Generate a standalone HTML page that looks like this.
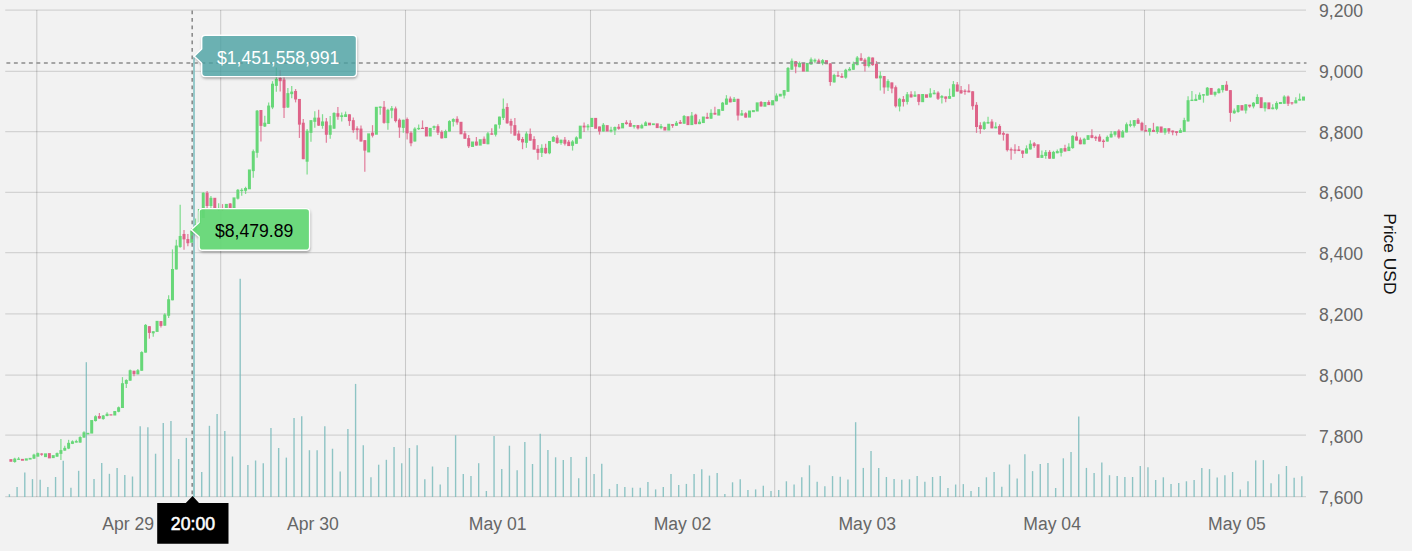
<!DOCTYPE html>
<html lang="en"><head><meta charset="utf-8"><title>Price chart</title>
<style>html,body{margin:0;padding:0;background:#f2f2f2;overflow:hidden}svg{display:block}text{font-family:"Liberation Sans",sans-serif;font-size:17.6px}.ax{fill:#666}.hg{stroke:#000;stroke-opacity:.125;stroke-width:1.25}.vg{stroke:#000;stroke-opacity:.17;stroke-width:1.05}.g{fill:#67d778}.r{fill:#de6489}.gw{stroke:#67d778;stroke-width:1.25;opacity:.8}.rw{stroke:#de6489;stroke-width:1.25;opacity:.8}.v{stroke:#7dbcbd;stroke-width:1.4;opacity:.85}.ch{stroke:#8c8c8c;stroke-width:1.6;stroke-dasharray:3.9 3.6;fill:none}</style></head><body>
<svg width="1412" height="551" viewBox="0 0 1412 551">
<defs><filter id="sh" x="-10%" y="-20%" width="120%" height="150%"><feGaussianBlur stdDeviation="1.5"/></filter></defs>
<rect width="1412" height="551" fill="#f2f2f2"/>
<g class="vg"><line x1="36.8" y1="10" x2="36.8" y2="497"/><line x1="220.7" y1="10" x2="220.7" y2="497"/><line x1="405.5" y1="10" x2="405.5" y2="497"/><line x1="590.5" y1="10" x2="590.5" y2="497"/><line x1="774.7" y1="10" x2="774.7" y2="497"/><line x1="959.7" y1="10" x2="959.7" y2="497"/><line x1="1144.5" y1="10" x2="1144.5" y2="497"/></g>
<g class="hg"><line x1="5.2" y1="10" x2="1306" y2="10"/><line x1="5.2" y1="71.3" x2="1306" y2="71.3"/><line x1="5.2" y1="131.5" x2="1306" y2="131.5"/><line x1="5.2" y1="192.3" x2="1306" y2="192.3"/><line x1="5.2" y1="252.5" x2="1306" y2="252.5"/><line x1="5.2" y1="313.9" x2="1306" y2="313.9"/><line x1="5.2" y1="375" x2="1306" y2="375"/><line x1="5.2" y1="435" x2="1306" y2="435"/><line x1="5.2" y1="496.5" x2="1306" y2="496.5"/></g>
<g class="v"><line x1="9.4" y1="494.2" x2="9.4" y2="497"/><line x1="17.09" y1="487.1" x2="17.09" y2="497"/><line x1="24.79" y1="472.5" x2="24.79" y2="497"/><line x1="32.48" y1="479.1" x2="32.48" y2="497"/><line x1="40.17" y1="479.7" x2="40.17" y2="497"/><line x1="47.86" y1="487.1" x2="47.86" y2="497"/><line x1="55.56" y1="477" x2="55.56" y2="497"/><line x1="63.25" y1="460.8" x2="63.25" y2="497"/><line x1="70.94" y1="487.7" x2="70.94" y2="497"/><line x1="78.64" y1="470.8" x2="78.64" y2="497"/><line x1="86.33" y1="362.2" x2="86.33" y2="497"/><line x1="94.02" y1="479.1" x2="94.02" y2="497"/><line x1="101.72" y1="463.1" x2="101.72" y2="497"/><line x1="109.41" y1="473.8" x2="109.41" y2="497"/><line x1="117.1" y1="467.9" x2="117.1" y2="497"/><line x1="124.8" y1="475" x2="124.8" y2="497"/><line x1="132.49" y1="476.5" x2="132.49" y2="497"/><line x1="140.18" y1="426.3" x2="140.18" y2="497"/><line x1="147.87" y1="427.2" x2="147.87" y2="497"/><line x1="155.57" y1="453.7" x2="155.57" y2="497"/><line x1="163.26" y1="423.1" x2="163.26" y2="497"/><line x1="170.95" y1="421" x2="170.95" y2="497"/><line x1="178.65" y1="459" x2="178.65" y2="497"/><line x1="186.34" y1="437.9" x2="186.34" y2="497"/><line x1="201.72" y1="472" x2="201.72" y2="497"/><line x1="209.42" y1="425.8" x2="209.42" y2="497"/><line x1="217.11" y1="413.9" x2="217.11" y2="497"/><line x1="224.8" y1="431.1" x2="224.8" y2="497"/><line x1="232.5" y1="456.5" x2="232.5" y2="497"/><line x1="240.19" y1="278.7" x2="240.19" y2="497"/><line x1="247.88" y1="465" x2="247.88" y2="497"/><line x1="255.58" y1="460.5" x2="255.58" y2="497"/><line x1="263.27" y1="463.2" x2="263.27" y2="497"/><line x1="270.96" y1="428.1" x2="270.96" y2="497"/><line x1="278.65" y1="448" x2="278.65" y2="497"/><line x1="286.35" y1="457.6" x2="286.35" y2="497"/><line x1="294.04" y1="418.1" x2="294.04" y2="497"/><line x1="301.73" y1="416.3" x2="301.73" y2="497"/><line x1="309.43" y1="450.2" x2="309.43" y2="497"/><line x1="317.12" y1="450.2" x2="317.12" y2="497"/><line x1="324.81" y1="426.3" x2="324.81" y2="497"/><line x1="332.51" y1="448.7" x2="332.51" y2="497"/><line x1="340.2" y1="471.4" x2="340.2" y2="497"/><line x1="347.89" y1="429" x2="347.89" y2="497"/><line x1="355.58" y1="383.9" x2="355.58" y2="497"/><line x1="363.28" y1="445.3" x2="363.28" y2="497"/><line x1="370.97" y1="477.2" x2="370.97" y2="497"/><line x1="378.66" y1="464.7" x2="378.66" y2="497"/><line x1="386.36" y1="459.8" x2="386.36" y2="497"/><line x1="394.05" y1="446.9" x2="394.05" y2="497"/><line x1="401.74" y1="463.2" x2="401.74" y2="497"/><line x1="409.44" y1="448" x2="409.44" y2="497"/><line x1="417.13" y1="445.3" x2="417.13" y2="497"/><line x1="424.82" y1="479.2" x2="424.82" y2="497"/><line x1="432.51" y1="466.5" x2="432.51" y2="497"/><line x1="440.21" y1="484.4" x2="440.21" y2="497"/><line x1="447.9" y1="467" x2="447.9" y2="497"/><line x1="455.59" y1="435.3" x2="455.59" y2="497"/><line x1="463.29" y1="473.9" x2="463.29" y2="497"/><line x1="470.98" y1="475.9" x2="470.98" y2="497"/><line x1="478.67" y1="463.2" x2="478.67" y2="497"/><line x1="486.37" y1="491" x2="486.37" y2="497"/><line x1="494.06" y1="435.9" x2="494.06" y2="497"/><line x1="501.75" y1="469" x2="501.75" y2="497"/><line x1="509.44" y1="445.7" x2="509.44" y2="497"/><line x1="517.14" y1="470.2" x2="517.14" y2="497"/><line x1="524.83" y1="442" x2="524.83" y2="497"/><line x1="532.52" y1="464" x2="532.52" y2="497"/><line x1="540.22" y1="433.8" x2="540.22" y2="497"/><line x1="547.91" y1="450.1" x2="547.91" y2="497"/><line x1="555.6" y1="457.3" x2="555.6" y2="497"/><line x1="563.3" y1="460.1" x2="563.3" y2="497"/><line x1="570.99" y1="456.9" x2="570.99" y2="497"/><line x1="578.68" y1="478.2" x2="578.68" y2="497"/><line x1="586.38" y1="456.9" x2="586.38" y2="497"/><line x1="594.07" y1="474.1" x2="594.07" y2="497"/><line x1="601.76" y1="463.7" x2="601.76" y2="497"/><line x1="609.45" y1="488.9" x2="609.45" y2="497"/><line x1="617.15" y1="483.9" x2="617.15" y2="497"/><line x1="624.84" y1="487.1" x2="624.84" y2="497"/><line x1="632.53" y1="487.7" x2="632.53" y2="497"/><line x1="640.23" y1="487.7" x2="640.23" y2="497"/><line x1="647.92" y1="482.1" x2="647.92" y2="497"/><line x1="655.61" y1="489.4" x2="655.61" y2="497"/><line x1="663.3" y1="487.1" x2="663.3" y2="497"/><line x1="671" y1="474.1" x2="671" y2="497"/><line x1="678.69" y1="485" x2="678.69" y2="497"/><line x1="686.38" y1="483.9" x2="686.38" y2="497"/><line x1="694.08" y1="474.1" x2="694.08" y2="497"/><line x1="701.77" y1="469.3" x2="701.77" y2="497"/><line x1="709.46" y1="475.6" x2="709.46" y2="497"/><line x1="717.16" y1="472.9" x2="717.16" y2="497"/><line x1="724.85" y1="493.9" x2="724.85" y2="497"/><line x1="732.54" y1="482.3" x2="732.54" y2="497"/><line x1="740.23" y1="479.3" x2="740.23" y2="497"/><line x1="747.93" y1="490.1" x2="747.93" y2="497"/><line x1="755.62" y1="489.4" x2="755.62" y2="497"/><line x1="763.31" y1="485.7" x2="763.31" y2="497"/><line x1="771.01" y1="491" x2="771.01" y2="497"/><line x1="778.7" y1="490" x2="778.7" y2="497"/><line x1="786.39" y1="481.3" x2="786.39" y2="497"/><line x1="794.09" y1="484.6" x2="794.09" y2="497"/><line x1="801.78" y1="477.3" x2="801.78" y2="497"/><line x1="809.47" y1="465.3" x2="809.47" y2="497"/><line x1="817.16" y1="481.8" x2="817.16" y2="497"/><line x1="824.86" y1="486.2" x2="824.86" y2="497"/><line x1="832.55" y1="476.1" x2="832.55" y2="497"/><line x1="840.24" y1="476.8" x2="840.24" y2="497"/><line x1="847.94" y1="479.5" x2="847.94" y2="497"/><line x1="855.63" y1="422.2" x2="855.63" y2="497"/><line x1="863.32" y1="467.9" x2="863.32" y2="497"/><line x1="871.02" y1="451" x2="871.02" y2="497"/><line x1="878.71" y1="467.9" x2="878.71" y2="497"/><line x1="886.4" y1="477" x2="886.4" y2="497"/><line x1="894.09" y1="479.1" x2="894.09" y2="497"/><line x1="901.79" y1="479.7" x2="901.79" y2="497"/><line x1="909.48" y1="479.3" x2="909.48" y2="497"/><line x1="917.17" y1="475.9" x2="917.17" y2="497"/><line x1="924.87" y1="481.8" x2="924.87" y2="497"/><line x1="932.56" y1="477" x2="932.56" y2="497"/><line x1="940.25" y1="475.9" x2="940.25" y2="497"/><line x1="947.95" y1="488" x2="947.95" y2="497"/><line x1="955.64" y1="484.5" x2="955.64" y2="497"/><line x1="963.33" y1="484.1" x2="963.33" y2="497"/><line x1="971.02" y1="491" x2="971.02" y2="497"/><line x1="978.72" y1="487.1" x2="978.72" y2="497"/><line x1="986.41" y1="477.3" x2="986.41" y2="497"/><line x1="994.1" y1="472" x2="994.1" y2="497"/><line x1="1001.8" y1="486.8" x2="1001.8" y2="497"/><line x1="1009.49" y1="464.5" x2="1009.49" y2="497"/><line x1="1017.18" y1="478.6" x2="1017.18" y2="497"/><line x1="1024.88" y1="454.2" x2="1024.88" y2="497"/><line x1="1032.57" y1="471.1" x2="1032.57" y2="497"/><line x1="1040.26" y1="464" x2="1040.26" y2="497"/><line x1="1047.95" y1="463.1" x2="1047.95" y2="497"/><line x1="1055.65" y1="488" x2="1055.65" y2="497"/><line x1="1063.34" y1="458.3" x2="1063.34" y2="497"/><line x1="1071.03" y1="451.9" x2="1071.03" y2="497"/><line x1="1078.73" y1="416.5" x2="1078.73" y2="497"/><line x1="1086.42" y1="467.9" x2="1086.42" y2="497"/><line x1="1094.11" y1="472.9" x2="1094.11" y2="497"/><line x1="1101.81" y1="462.6" x2="1101.81" y2="497"/><line x1="1109.5" y1="475.2" x2="1109.5" y2="497"/><line x1="1117.19" y1="476.1" x2="1117.19" y2="497"/><line x1="1124.88" y1="477" x2="1124.88" y2="497"/><line x1="1132.58" y1="477" x2="1132.58" y2="497"/><line x1="1140.27" y1="466.1" x2="1140.27" y2="497"/><line x1="1147.96" y1="467.2" x2="1147.96" y2="497"/><line x1="1155.66" y1="480" x2="1155.66" y2="497"/><line x1="1163.35" y1="477.3" x2="1163.35" y2="497"/><line x1="1171.04" y1="484.1" x2="1171.04" y2="497"/><line x1="1178.74" y1="482.9" x2="1178.74" y2="497"/><line x1="1186.43" y1="481.3" x2="1186.43" y2="497"/><line x1="1194.12" y1="480.1" x2="1194.12" y2="497"/><line x1="1201.82" y1="468" x2="1201.82" y2="497"/><line x1="1209.51" y1="469.1" x2="1209.51" y2="497"/><line x1="1217.2" y1="477.4" x2="1217.2" y2="497"/><line x1="1224.89" y1="475.2" x2="1224.89" y2="497"/><line x1="1232.59" y1="472" x2="1232.59" y2="497"/><line x1="1240.28" y1="489.4" x2="1240.28" y2="497"/><line x1="1247.97" y1="481.2" x2="1247.97" y2="497"/><line x1="1255.67" y1="460.4" x2="1255.67" y2="497"/><line x1="1263.36" y1="460.1" x2="1263.36" y2="497"/><line x1="1271.05" y1="483.3" x2="1271.05" y2="497"/><line x1="1278.75" y1="474.2" x2="1278.75" y2="497"/><line x1="1286.44" y1="466" x2="1286.44" y2="497"/><line x1="1294.13" y1="477.8" x2="1294.13" y2="497"/><line x1="1301.82" y1="476.2" x2="1301.82" y2="497"/></g>
<g><line class="gw" x1="14.75" y1="457.87" x2="14.75" y2="462.63"/><line class="gw" x1="18.59" y1="457.12" x2="18.59" y2="459.88"/><line class="gw" x1="33.98" y1="453.86" x2="33.98" y2="458.88"/><line class="gw" x1="37.83" y1="452.61" x2="37.83" y2="456.62"/><line class="rw" x1="41.68" y1="453.24" x2="41.68" y2="455.74"/><line class="gw" x1="57.06" y1="452.61" x2="57.06" y2="457"/><line class="gw" x1="60.91" y1="439.08" x2="60.91" y2="459.88"/><line class="gw" x1="64.76" y1="445.85" x2="64.76" y2="450.86"/><line class="gw" x1="68.61" y1="439.83" x2="68.61" y2="449.1"/><line class="gw" x1="72.45" y1="440.34" x2="72.45" y2="444.09"/><line class="gw" x1="76.3" y1="439.83" x2="76.3" y2="442.59"/><line class="gw" x1="80.15" y1="436.33" x2="80.15" y2="442.84"/><line class="gw" x1="83.99" y1="431.32" x2="83.99" y2="437.83"/><line class="gw" x1="95.53" y1="415.28" x2="95.53" y2="421.55"/><line class="rw" x1="99.38" y1="413.03" x2="99.38" y2="418.79"/><line class="gw" x1="103.23" y1="415.03" x2="103.23" y2="419.79"/><line class="gw" x1="107.08" y1="412.28" x2="107.08" y2="416.28"/><line class="gw" x1="118.62" y1="406.51" x2="118.62" y2="412.28"/><line class="gw" x1="122.46" y1="377.12" x2="122.46" y2="408.01"/><line class="gw" x1="126.31" y1="379.15" x2="126.31" y2="388.05"/><line class="gw" x1="130.16" y1="369.49" x2="130.16" y2="380.68"/><line class="rw" x1="134" y1="370.76" x2="134" y2="376.23"/><line class="gw" x1="137.85" y1="368.98" x2="137.85" y2="374.32"/><line class="gw" x1="141.7" y1="351.19" x2="141.7" y2="370.76"/><line class="gw" x1="145.55" y1="324.02" x2="145.55" y2="352.62"/><line class="rw" x1="149.39" y1="326.18" x2="149.39" y2="338.64"/><line class="gw" x1="153.24" y1="331.27" x2="153.24" y2="336.73"/><line class="rw" x1="160.93" y1="321.1" x2="160.93" y2="327.46"/><line class="gw" x1="164.78" y1="313.22" x2="164.78" y2="325.68"/><line class="gw" x1="168.63" y1="295.17" x2="168.63" y2="318.05"/><line class="gw" x1="172.47" y1="249.4" x2="172.47" y2="300.3"/><line class="gw" x1="176.32" y1="239.68" x2="176.32" y2="269.45"/><line class="gw" x1="180.17" y1="204.66" x2="180.17" y2="247.85"/><line class="rw" x1="184.02" y1="230.11" x2="184.02" y2="249.86"/><line class="rw" x1="187.86" y1="233.97" x2="187.86" y2="246.31"/><line class="gw" x1="195.56" y1="218.5" x2="195.56" y2="230.4"/><line class="gw" x1="203.25" y1="192.3" x2="203.25" y2="218"/><line class="rw" x1="207.1" y1="191.1" x2="207.1" y2="209"/><line class="gw" x1="210.94" y1="195.9" x2="210.94" y2="210"/><line class="gw" x1="218.64" y1="203.3" x2="218.64" y2="211"/><line class="rw" x1="222.49" y1="204.1" x2="222.49" y2="211"/><line class="rw" x1="230.18" y1="203" x2="230.18" y2="208.5"/><line class="gw" x1="237.87" y1="188.9" x2="237.87" y2="199.44"/><line class="gw" x1="241.72" y1="188.27" x2="241.72" y2="195.63"/><line class="gw" x1="245.57" y1="186.74" x2="245.57" y2="193.98"/><line class="gw" x1="253.26" y1="149.53" x2="253.26" y2="177.85"/><line class="gw" x1="257.11" y1="110.01" x2="257.11" y2="157.64"/><line class="rw" x1="260.95" y1="110.01" x2="260.95" y2="141.38"/><line class="gw" x1="264.8" y1="115.73" x2="264.8" y2="126.9"/><line class="gw" x1="268.65" y1="102.39" x2="268.65" y2="123.98"/><line class="gw" x1="272.5" y1="81.18" x2="272.5" y2="109.12"/><line class="gw" x1="276.34" y1="67.46" x2="276.34" y2="91.85"/><line class="rw" x1="280.19" y1="70.13" x2="280.19" y2="91.59"/><line class="rw" x1="284.04" y1="77.37" x2="284.04" y2="118.01"/><line class="gw" x1="287.88" y1="88.04" x2="287.88" y2="108.1"/><line class="gw" x1="291.73" y1="85.88" x2="291.73" y2="98.2"/><line class="rw" x1="295.58" y1="89.05" x2="295.58" y2="102.39"/><line class="rw" x1="299.42" y1="98.96" x2="299.42" y2="137.95"/><line class="rw" x1="303.27" y1="118.9" x2="303.27" y2="159.17"/><line class="gw" x1="307.12" y1="129.06" x2="307.12" y2="174.41"/><line class="gw" x1="310.97" y1="120.17" x2="310.97" y2="141.76"/><line class="gw" x1="314.81" y1="111.28" x2="314.81" y2="127.79"/><line class="rw" x1="318.66" y1="109.63" x2="318.66" y2="125.89"/><line class="gw" x1="322.51" y1="114.2" x2="322.51" y2="128.68"/><line class="rw" x1="326.35" y1="118.01" x2="326.35" y2="142.65"/><line class="gw" x1="330.2" y1="115.98" x2="330.2" y2="138.84"/><line class="gw" x1="334.05" y1="112.17" x2="334.05" y2="128.68"/><line class="rw" x1="337.89" y1="107.09" x2="337.89" y2="119.79"/><line class="gw" x1="341.74" y1="112.52" x2="341.74" y2="121.51"/><line class="gw" x1="345.59" y1="111.57" x2="345.59" y2="117.01"/><line class="rw" x1="349.44" y1="114.29" x2="349.44" y2="125.86"/><line class="rw" x1="353.28" y1="117.42" x2="353.28" y2="132.67"/><line class="rw" x1="357.13" y1="126.13" x2="357.13" y2="139.47"/><line class="rw" x1="360.98" y1="125.59" x2="360.98" y2="141.51"/><line class="rw" x1="364.82" y1="140.15" x2="364.82" y2="171.87"/><line class="rw" x1="372.52" y1="125.18" x2="372.52" y2="137.43"/><line class="gw" x1="380.21" y1="106.53" x2="380.21" y2="114.7"/><line class="rw" x1="384.06" y1="101.09" x2="384.06" y2="123.82"/><line class="gw" x1="387.91" y1="108.85" x2="387.91" y2="129.67"/><line class="gw" x1="391.75" y1="106.12" x2="391.75" y2="118.37"/><line class="rw" x1="395.6" y1="106.53" x2="395.6" y2="122.46"/><line class="rw" x1="399.45" y1="118.37" x2="399.45" y2="137.84"/><line class="gw" x1="403.29" y1="119.74" x2="403.29" y2="132.67"/><line class="rw" x1="407.14" y1="117.42" x2="407.14" y2="139.47"/><line class="rw" x1="410.99" y1="131.31" x2="410.99" y2="146.28"/><line class="gw" x1="414.83" y1="127.22" x2="414.83" y2="141.51"/><line class="gw" x1="418.68" y1="124.5" x2="418.68" y2="129.94"/><line class="rw" x1="422.53" y1="120.42" x2="422.53" y2="128.86"/><line class="gw" x1="434.07" y1="125.59" x2="434.07" y2="129.94"/><line class="rw" x1="437.92" y1="124.23" x2="437.92" y2="135.12"/><line class="rw" x1="441.76" y1="130.22" x2="441.76" y2="138.38"/><line class="gw" x1="445.61" y1="129.67" x2="445.61" y2="138.11"/><line class="gw" x1="449.46" y1="120.14" x2="449.46" y2="131.58"/><line class="gw" x1="453.3" y1="118.37" x2="453.3" y2="126.54"/><line class="rw" x1="457.15" y1="116.33" x2="457.15" y2="124.77"/><line class="rw" x1="464.85" y1="131.03" x2="464.85" y2="138.79"/><line class="rw" x1="468.69" y1="135.12" x2="468.69" y2="147.91"/><line class="rw" x1="476.39" y1="137.02" x2="476.39" y2="145.6"/><line class="rw" x1="484.08" y1="136.48" x2="484.08" y2="143.83"/><line class="gw" x1="487.93" y1="131.99" x2="487.93" y2="144.24"/><line class="rw" x1="491.77" y1="128.31" x2="491.77" y2="134.71"/><line class="gw" x1="495.62" y1="124.5" x2="495.62" y2="136.48"/><line class="gw" x1="499.47" y1="116.61" x2="499.47" y2="128.58"/><line class="gw" x1="503.32" y1="98.44" x2="503.32" y2="119.94"/><line class="rw" x1="507.16" y1="103.34" x2="507.16" y2="123.76"/><line class="rw" x1="511.01" y1="118.86" x2="511.01" y2="133.83"/><line class="rw" x1="514.86" y1="117.9" x2="514.86" y2="135.6"/><line class="rw" x1="518.7" y1="130.56" x2="518.7" y2="141.04"/><line class="rw" x1="522.55" y1="136.96" x2="522.55" y2="149.21"/><line class="gw" x1="526.4" y1="131.51" x2="526.4" y2="147.85"/><line class="rw" x1="530.25" y1="128.38" x2="530.25" y2="140.63"/><line class="rw" x1="534.09" y1="136.28" x2="534.09" y2="149.62"/><line class="rw" x1="537.94" y1="145.12" x2="537.94" y2="159.69"/><line class="gw" x1="541.79" y1="144.17" x2="541.79" y2="156.97"/><line class="rw" x1="545.63" y1="143.76" x2="545.63" y2="153.7"/><line class="gw" x1="549.48" y1="141.04" x2="549.48" y2="154.24"/><line class="gw" x1="553.33" y1="136.01" x2="553.33" y2="141.72"/><line class="rw" x1="557.17" y1="135.19" x2="557.17" y2="143.76"/><line class="gw" x1="561.02" y1="139.68" x2="561.02" y2="144.72"/><line class="rw" x1="564.87" y1="136.96" x2="564.87" y2="145.53"/><line class="rw" x1="568.71" y1="140.09" x2="568.71" y2="146.08"/><line class="gw" x1="572.56" y1="140.09" x2="572.56" y2="150.57"/><line class="gw" x1="576.41" y1="136.28" x2="576.41" y2="143.76"/><line class="rw" x1="584.1" y1="122.39" x2="584.1" y2="131.92"/><line class="gw" x1="587.95" y1="124.03" x2="587.95" y2="130.56"/><line class="rw" x1="599.49" y1="126.48" x2="599.49" y2="134.64"/><line class="gw" x1="603.34" y1="122.94" x2="603.34" y2="131.51"/><line class="gw" x1="611.03" y1="126.75" x2="611.03" y2="132.47"/><line class="gw" x1="614.88" y1="126.48" x2="614.88" y2="134.92"/><line class="rw" x1="618.73" y1="124.03" x2="618.73" y2="129.74"/><line class="rw" x1="626.42" y1="120.22" x2="626.42" y2="124.71"/><line class="rw" x1="630.27" y1="120.22" x2="630.27" y2="126.75"/><line class="gw" x1="634.11" y1="125.12" x2="634.11" y2="128.38"/><line class="rw" x1="637.96" y1="125.12" x2="637.96" y2="129.47"/><line class="gw" x1="641.81" y1="123.76" x2="641.81" y2="128.38"/><line class="gw" x1="645.65" y1="121.31" x2="645.65" y2="126.07"/><line class="gw" x1="661.04" y1="124.03" x2="661.04" y2="129.2"/><line class="rw" x1="672.58" y1="124.14" x2="672.58" y2="127.82"/><line class="gw" x1="676.43" y1="121.01" x2="676.43" y2="125.78"/><line class="rw" x1="680.28" y1="120.06" x2="680.28" y2="123.74"/><line class="gw" x1="684.12" y1="114.89" x2="684.12" y2="123.74"/><line class="gw" x1="691.82" y1="111.89" x2="691.82" y2="125.1"/><line class="rw" x1="695.67" y1="113.8" x2="695.67" y2="124.14"/><line class="gw" x1="699.51" y1="119.24" x2="699.51" y2="124.14"/><line class="rw" x1="707.21" y1="112.85" x2="707.21" y2="118.7"/><line class="gw" x1="711.05" y1="109.17" x2="711.05" y2="118.7"/><line class="rw" x1="714.9" y1="106.72" x2="714.9" y2="114.62"/><line class="gw" x1="722.6" y1="101.96" x2="722.6" y2="110.81"/><line class="gw" x1="726.44" y1="95.15" x2="726.44" y2="104.68"/><line class="rw" x1="730.29" y1="96.51" x2="730.29" y2="102.37"/><line class="gw" x1="734.14" y1="96.92" x2="734.14" y2="101.96"/><line class="rw" x1="737.98" y1="98.83" x2="737.98" y2="120.61"/><line class="gw" x1="741.83" y1="110.12" x2="741.83" y2="115.57"/><line class="rw" x1="745.68" y1="112.17" x2="745.68" y2="117.61"/><line class="rw" x1="761.06" y1="101.01" x2="761.06" y2="106.45"/><line class="rw" x1="768.76" y1="100.19" x2="768.76" y2="105.09"/><line class="gw" x1="776.45" y1="93.38" x2="776.45" y2="101.28"/><line class="gw" x1="784.15" y1="90.12" x2="784.15" y2="98.56"/><line class="gw" x1="787.99" y1="66.98" x2="787.99" y2="91.75"/><line class="gw" x1="791.84" y1="58.4" x2="791.84" y2="69.7"/><line class="rw" x1="795.69" y1="61.12" x2="795.69" y2="73.37"/><line class="gw" x1="799.53" y1="61.53" x2="799.53" y2="67.25"/><line class="gw" x1="811.08" y1="57.45" x2="811.08" y2="64.53"/><line class="gw" x1="814.92" y1="58.4" x2="814.92" y2="63.17"/><line class="rw" x1="818.77" y1="58.81" x2="818.77" y2="63.44"/><line class="gw" x1="822.62" y1="59.08" x2="822.62" y2="65.21"/><line class="rw" x1="830.31" y1="63.37" x2="830.31" y2="85.83"/><line class="gw" x1="834.16" y1="73.86" x2="834.16" y2="82.43"/><line class="rw" x1="838" y1="71.13" x2="838" y2="76.58"/><line class="rw" x1="841.85" y1="73.31" x2="841.85" y2="77.67"/><line class="gw" x1="845.7" y1="68.82" x2="845.7" y2="78.76"/><line class="gw" x1="849.55" y1="67.05" x2="849.55" y2="70.59"/><line class="gw" x1="853.39" y1="61.61" x2="853.39" y2="69.77"/><line class="gw" x1="857.24" y1="55.89" x2="857.24" y2="65.14"/><line class="rw" x1="861.09" y1="53.17" x2="861.09" y2="60.65"/><line class="rw" x1="864.93" y1="58.34" x2="864.93" y2="71.54"/><line class="gw" x1="868.78" y1="56.57" x2="868.78" y2="67.46"/><line class="rw" x1="872.63" y1="57.52" x2="872.63" y2="65.69"/><line class="rw" x1="876.48" y1="61.06" x2="876.48" y2="78.35"/><line class="gw" x1="880.32" y1="71.54" x2="880.32" y2="90.6"/><line class="rw" x1="884.17" y1="76.03" x2="884.17" y2="93.73"/><line class="gw" x1="888.02" y1="79.3" x2="888.02" y2="91.01"/><line class="rw" x1="891.86" y1="82.43" x2="891.86" y2="93.32"/><line class="rw" x1="895.71" y1="85.56" x2="895.71" y2="107.61"/><line class="gw" x1="899.56" y1="97.81" x2="899.56" y2="111.42"/><line class="rw" x1="903.4" y1="96.04" x2="903.4" y2="106.52"/><line class="gw" x1="907.25" y1="91.96" x2="907.25" y2="104.62"/><line class="rw" x1="911.1" y1="91.28" x2="911.1" y2="97.4"/><line class="gw" x1="914.94" y1="91.28" x2="914.94" y2="96.72"/><line class="rw" x1="918.79" y1="94.27" x2="918.79" y2="105.16"/><line class="gw" x1="930.33" y1="88.28" x2="930.33" y2="97.4"/><line class="gw" x1="934.18" y1="89.92" x2="934.18" y2="94.27"/><line class="rw" x1="938.03" y1="91.28" x2="938.03" y2="100.12"/><line class="gw" x1="941.87" y1="95.09" x2="941.87" y2="103.53"/><line class="rw" x1="945.72" y1="96.45" x2="945.72" y2="102.17"/><line class="gw" x1="949.57" y1="88.56" x2="949.57" y2="98.76"/><line class="gw" x1="953.41" y1="81.07" x2="953.41" y2="96.72"/><line class="rw" x1="957.26" y1="82.02" x2="957.26" y2="91.55"/><line class="rw" x1="961.11" y1="86.11" x2="961.11" y2="93.73"/><line class="rw" x1="964.96" y1="89.24" x2="964.96" y2="94.68"/><line class="rw" x1="968.8" y1="84.2" x2="968.8" y2="92.37"/><line class="rw" x1="972.65" y1="91.28" x2="972.65" y2="109.65"/><line class="rw" x1="976.5" y1="102.08" x2="976.5" y2="132.84"/><line class="rw" x1="980.34" y1="122.22" x2="980.34" y2="133.79"/><line class="gw" x1="984.19" y1="121.13" x2="984.19" y2="130.12"/><line class="gw" x1="988.04" y1="116.78" x2="988.04" y2="123.58"/><line class="rw" x1="991.88" y1="119.23" x2="991.88" y2="128.35"/><line class="gw" x1="995.73" y1="122.22" x2="995.73" y2="128.35"/><line class="rw" x1="999.58" y1="124.26" x2="999.58" y2="134.47"/><line class="rw" x1="1003.43" y1="131.48" x2="1003.43" y2="140.6"/><line class="rw" x1="1007.27" y1="133.79" x2="1007.27" y2="151.49"/><line class="rw" x1="1011.12" y1="147.4" x2="1011.12" y2="159.65"/><line class="rw" x1="1014.97" y1="144.27" x2="1014.97" y2="153.8"/><line class="rw" x1="1018.81" y1="146.04" x2="1018.81" y2="151.08"/><line class="rw" x1="1022.66" y1="150.53" x2="1022.66" y2="157.88"/><line class="gw" x1="1026.51" y1="145.36" x2="1026.51" y2="153.53"/><line class="gw" x1="1030.36" y1="140.19" x2="1030.36" y2="149.44"/><line class="rw" x1="1034.2" y1="141.96" x2="1034.2" y2="147.81"/><line class="gw" x1="1041.9" y1="150.53" x2="1041.9" y2="157.88"/><line class="gw" x1="1045.74" y1="150.12" x2="1045.74" y2="158.7"/><line class="rw" x1="1049.59" y1="150.12" x2="1049.59" y2="158.7"/><line class="gw" x1="1053.44" y1="150.81" x2="1053.44" y2="158.7"/><line class="gw" x1="1057.28" y1="149.44" x2="1057.28" y2="153.26"/><line class="gw" x1="1061.13" y1="148.36" x2="1061.13" y2="156.52"/><line class="rw" x1="1064.98" y1="144.68" x2="1064.98" y2="151.49"/><line class="gw" x1="1068.83" y1="143.32" x2="1068.83" y2="151.08"/><line class="gw" x1="1072.67" y1="135.15" x2="1072.67" y2="148.76"/><line class="rw" x1="1076.52" y1="132.02" x2="1076.52" y2="140.6"/><line class="rw" x1="1080.37" y1="137.47" x2="1080.37" y2="144.27"/><line class="gw" x1="1084.21" y1="137.87" x2="1084.21" y2="144.27"/><line class="rw" x1="1091.91" y1="129.3" x2="1091.91" y2="138.28"/><line class="rw" x1="1095.75" y1="135.83" x2="1095.75" y2="141.01"/><line class="rw" x1="1099.6" y1="134.2" x2="1099.6" y2="141.55"/><line class="rw" x1="1103.45" y1="139.24" x2="1103.45" y2="147.81"/><line class="gw" x1="1107.3" y1="135.56" x2="1107.3" y2="141.55"/><line class="gw" x1="1111.14" y1="131.07" x2="1111.14" y2="137.47"/><line class="gw" x1="1114.99" y1="131.07" x2="1114.99" y2="136.51"/><line class="rw" x1="1118.84" y1="129.3" x2="1118.84" y2="138.83"/><line class="gw" x1="1122.68" y1="130.12" x2="1122.68" y2="137.47"/><line class="gw" x1="1126.53" y1="122.49" x2="1126.53" y2="132.43"/><line class="gw" x1="1130.38" y1="120.36" x2="1130.38" y2="127.17"/><line class="gw" x1="1134.22" y1="120.09" x2="1134.22" y2="127.44"/><line class="rw" x1="1138.07" y1="117.91" x2="1138.07" y2="123.76"/><line class="rw" x1="1141.92" y1="121.72" x2="1141.92" y2="130.57"/><line class="rw" x1="1145.77" y1="125.12" x2="1145.77" y2="131.52"/><line class="gw" x1="1149.61" y1="128.26" x2="1149.61" y2="135.61"/><line class="rw" x1="1153.46" y1="122.81" x2="1153.46" y2="131.93"/><line class="gw" x1="1157.31" y1="126.49" x2="1157.31" y2="133.7"/><line class="gw" x1="1165" y1="128.26" x2="1165" y2="134.65"/><line class="rw" x1="1168.85" y1="128.26" x2="1168.85" y2="133.7"/><line class="rw" x1="1172.69" y1="130.57" x2="1172.69" y2="135.33"/><line class="rw" x1="1176.54" y1="131.25" x2="1176.54" y2="135.61"/><line class="gw" x1="1180.39" y1="128.26" x2="1180.39" y2="132.88"/><line class="gw" x1="1184.24" y1="117.64" x2="1184.24" y2="131.93"/><line class="gw" x1="1188.08" y1="96.13" x2="1188.08" y2="121.45"/><line class="gw" x1="1191.93" y1="91.1" x2="1191.93" y2="101.03"/><line class="gw" x1="1195.78" y1="94.23" x2="1195.78" y2="101.03"/><line class="gw" x1="1199.62" y1="92.46" x2="1199.62" y2="99.67"/><line class="gw" x1="1203.47" y1="94.23" x2="1203.47" y2="102.67"/><line class="gw" x1="1207.32" y1="87.01" x2="1207.32" y2="95.59"/><line class="gw" x1="1215.01" y1="91.78" x2="1215.01" y2="96.54"/><line class="gw" x1="1218.86" y1="87.97" x2="1218.86" y2="93.41"/><line class="gw" x1="1222.71" y1="84.97" x2="1222.71" y2="92.46"/><line class="rw" x1="1226.55" y1="81.16" x2="1226.55" y2="90.69"/><line class="rw" x1="1230.4" y1="90.14" x2="1230.4" y2="121.72"/><line class="gw" x1="1234.25" y1="108.38" x2="1234.25" y2="113.83"/><line class="gw" x1="1238.09" y1="105.12" x2="1238.09" y2="112.87"/><line class="gw" x1="1245.79" y1="104.3" x2="1245.79" y2="113.56"/><line class="rw" x1="1249.63" y1="104.71" x2="1249.63" y2="107.84"/><line class="gw" x1="1253.48" y1="101.99" x2="1253.48" y2="108.38"/><line class="gw" x1="1257.33" y1="94.23" x2="1257.33" y2="104.03"/><line class="gw" x1="1265.02" y1="102.39" x2="1265.02" y2="111.51"/><line class="gw" x1="1272.72" y1="104.3" x2="1272.72" y2="109.2"/><line class="gw" x1="1276.56" y1="101.31" x2="1276.56" y2="110.15"/><line class="gw" x1="1284.26" y1="95.18" x2="1284.26" y2="103.76"/><line class="rw" x1="1288.1" y1="95.59" x2="1288.1" y2="106.07"/><line class="rw" x1="1291.95" y1="102.39" x2="1291.95" y2="104.71"/><line class="gw" x1="1295.8" y1="97.22" x2="1295.8" y2="103.35"/><line class="gw" x1="1299.64" y1="93.41" x2="1299.64" y2="100.62"/></g>
<g><rect class="r" x="9.4" y="459.13" width="3" height="2.63"/><rect class="g" x="13.25" y="458.62" width="3" height="3.38"/><rect class="g" x="17.09" y="458.62" width="3" height="1.25"/><rect class="r" x="20.94" y="458.88" width="3" height="1.88"/><rect class="g" x="24.79" y="458.37" width="3" height="2.25"/><rect class="g" x="28.63" y="457.87" width="3" height="1.75"/><rect class="g" x="32.48" y="454.62" width="3" height="4.01"/><rect class="g" x="36.33" y="453.11" width="3" height="3.51"/><rect class="r" x="40.18" y="453.51" width="3" height="1.2"/><rect class="g" x="44.02" y="453.36" width="3" height="3.76"/><rect class="r" x="47.87" y="453.11" width="3" height="5.26"/><rect class="g" x="51.72" y="455.12" width="3" height="3.01"/><rect class="g" x="55.56" y="453.11" width="3" height="3.51"/><rect class="g" x="59.41" y="450.11" width="3" height="3.76"/><rect class="g" x="63.26" y="447.85" width="3" height="2.76"/><rect class="g" x="67.11" y="442.84" width="3" height="5.76"/><rect class="g" x="70.95" y="441.34" width="3" height="2.51"/><rect class="g" x="74.8" y="441.09" width="3" height="1.5"/><rect class="g" x="78.65" y="437.08" width="3" height="5.51"/><rect class="g" x="82.49" y="432.32" width="3" height="5.26"/><rect class="g" x="86.34" y="432.82" width="3" height="1.63"/><rect class="g" x="90.19" y="420.04" width="3" height="13.53"/><rect class="g" x="94.03" y="416.28" width="3" height="4.76"/><rect class="r" x="97.88" y="416.03" width="3" height="2.51"/><rect class="g" x="101.73" y="415.53" width="3" height="3.51"/><rect class="g" x="105.58" y="413.78" width="3" height="2.25"/><rect class="r" x="109.42" y="414.28" width="3" height="1.25"/><rect class="g" x="113.27" y="411.02" width="3" height="4.51"/><rect class="g" x="117.12" y="407.27" width="3" height="4.51"/><rect class="g" x="120.96" y="383.22" width="3" height="24.79"/><rect class="g" x="124.81" y="380.04" width="3" height="3.81"/><rect class="g" x="128.66" y="370.25" width="3" height="10.42"/><rect class="r" x="132.5" y="370.76" width="3" height="3.3"/><rect class="g" x="136.35" y="370.25" width="3" height="4.07"/><rect class="g" x="140.2" y="352.08" width="3" height="18.69"/><rect class="g" x="144.05" y="324.91" width="3" height="27.71"/><rect class="r" x="147.89" y="326.18" width="3" height="6.74"/><rect class="g" x="151.74" y="331.27" width="3" height="2.03"/><rect class="g" x="155.59" y="320.85" width="3" height="11.06"/><rect class="r" x="159.43" y="321.1" width="3" height="4.83"/><rect class="g" x="163.28" y="314.49" width="3" height="11.19"/><rect class="g" x="167.13" y="299.24" width="3" height="16.52"/><rect class="g" x="170.97" y="269" width="3" height="31.3"/><rect class="g" x="174.82" y="245.54" width="3" height="23.91"/><rect class="g" x="178.67" y="235.97" width="3" height="11.11"/><rect class="r" x="182.52" y="233.97" width="3" height="5.4"/><rect class="r" x="186.36" y="239.06" width="3" height="4.17"/><rect class="g" x="190.21" y="230.42" width="3" height="12.34"/><rect class="g" x="194.06" y="224" width="3" height="6.4"/><rect class="g" x="197.9" y="209" width="3" height="15"/><rect class="g" x="201.75" y="192.7" width="3" height="25.3"/><rect class="r" x="205.6" y="192.7" width="3" height="13.3"/><rect class="g" x="209.44" y="197.8" width="3" height="8.2"/><rect class="r" x="213.29" y="197.8" width="3" height="11.2"/><rect class="g" x="217.14" y="208" width="3" height="2"/><rect class="r" x="220.99" y="208" width="3" height="2"/><rect class="g" x="224.83" y="203.9" width="3" height="5.1"/><rect class="r" x="228.68" y="203.5" width="3" height="5"/><rect class="g" x="232.53" y="197.4" width="3" height="11.1"/><rect class="g" x="236.37" y="189.79" width="3" height="8.89"/><rect class="g" x="240.22" y="189.79" width="3" height="1.27"/><rect class="g" x="244.07" y="188.01" width="3" height="2.79"/><rect class="g" x="247.91" y="169.47" width="3" height="19.81"/><rect class="g" x="251.76" y="151.18" width="3" height="19.94"/><rect class="g" x="255.61" y="110.65" width="3" height="42.17"/><rect class="r" x="259.45" y="110.01" width="3" height="15.88"/><rect class="g" x="263.3" y="122.71" width="3" height="3.81"/><rect class="g" x="267.15" y="105.56" width="3" height="18.42"/><rect class="g" x="271" y="83.72" width="3" height="23.75"/><rect class="g" x="274.84" y="78.89" width="3" height="6.99"/><rect class="r" x="278.69" y="77.88" width="3" height="3.3"/><rect class="r" x="282.54" y="79.53" width="3" height="28.32"/><rect class="g" x="286.38" y="93.12" width="3" height="14.35"/><rect class="g" x="290.23" y="91.59" width="3" height="2.54"/><rect class="r" x="294.08" y="90.96" width="3" height="8.51"/><rect class="r" x="297.92" y="98.96" width="3" height="25.66"/><rect class="r" x="301.77" y="122.71" width="3" height="36.45"/><rect class="g" x="305.62" y="130.71" width="3" height="30.99"/><rect class="g" x="309.47" y="120.17" width="3" height="12.7"/><rect class="g" x="313.31" y="117.63" width="3" height="4.19"/><rect class="r" x="317.16" y="117.63" width="3" height="8"/><rect class="g" x="321.01" y="121.44" width="3" height="4.45"/><rect class="r" x="324.85" y="121.44" width="3" height="13.34"/><rect class="g" x="328.7" y="125.25" width="3" height="9.53"/><rect class="g" x="332.55" y="112.93" width="3" height="15.75"/><rect class="r" x="336.39" y="113.19" width="3" height="3.56"/><rect class="g" x="340.24" y="115.24" width="3" height="1.77"/><rect class="g" x="344.09" y="114.29" width="3" height="2.72"/><rect class="r" x="347.94" y="114.29" width="3" height="6.81"/><rect class="r" x="351.78" y="120.14" width="3" height="10.07"/><rect class="r" x="355.63" y="128.31" width="3" height="1.91"/><rect class="r" x="359.48" y="128.58" width="3" height="12.93"/><rect class="r" x="363.32" y="140.15" width="3" height="10.48"/><rect class="g" x="367.17" y="133.35" width="3" height="19.06"/><rect class="r" x="371.02" y="132.67" width="3" height="2.99"/><rect class="g" x="374.86" y="106.81" width="3" height="27.9"/><rect class="g" x="378.71" y="106.53" width="3" height="1.36"/><rect class="r" x="382.56" y="106.81" width="3" height="16.06"/><rect class="g" x="386.41" y="109.8" width="3" height="13.34"/><rect class="g" x="390.25" y="108.17" width="3" height="2.45"/><rect class="r" x="394.1" y="108.44" width="3" height="12.66"/><rect class="r" x="397.95" y="119.74" width="3" height="7.76"/><rect class="g" x="401.79" y="119.74" width="3" height="8.17"/><rect class="r" x="405.64" y="119.06" width="3" height="14.29"/><rect class="r" x="409.49" y="132.67" width="3" height="10.62"/><rect class="g" x="413.33" y="128.58" width="3" height="12.93"/><rect class="g" x="417.18" y="127.9" width="3" height="1.36"/><rect class="r" x="421.03" y="127.78" width="3" height="1.2"/><rect class="r" x="424.88" y="126.95" width="3" height="9.53"/><rect class="g" x="428.72" y="127.9" width="3" height="8.57"/><rect class="g" x="432.57" y="126.13" width="3" height="1.77"/><rect class="r" x="436.42" y="126.13" width="3" height="6.53"/><rect class="r" x="440.26" y="131.99" width="3" height="6.4"/><rect class="g" x="444.11" y="131.03" width="3" height="7.08"/><rect class="g" x="447.96" y="121.1" width="3" height="10.48"/><rect class="g" x="451.8" y="119.06" width="3" height="2.72"/><rect class="r" x="455.65" y="118.78" width="3" height="3.67"/><rect class="r" x="459.5" y="121.78" width="3" height="12.52"/><rect class="r" x="463.35" y="133.35" width="3" height="5.44"/><rect class="r" x="467.19" y="138.11" width="3" height="8.17"/><rect class="g" x="471.04" y="141.51" width="3" height="5.44"/><rect class="r" x="474.89" y="141.51" width="3" height="4.08"/><rect class="g" x="478.73" y="139.2" width="3" height="6.4"/><rect class="r" x="482.58" y="138.79" width="3" height="5.04"/><rect class="g" x="486.43" y="133.35" width="3" height="10.89"/><rect class="r" x="490.27" y="133.35" width="3" height="1.36"/><rect class="g" x="494.12" y="124.5" width="3" height="10.21"/><rect class="g" x="497.97" y="116.61" width="3" height="8.17"/><rect class="g" x="501.82" y="108.78" width="3" height="9.12"/><rect class="r" x="505.66" y="107.01" width="3" height="16.33"/><rect class="r" x="509.51" y="121.03" width="3" height="4.63"/><rect class="r" x="513.36" y="125.12" width="3" height="10.48"/><rect class="r" x="517.2" y="133.56" width="3" height="6.53"/><rect class="r" x="521.05" y="139" width="3" height="3.4"/><rect class="g" x="524.9" y="133.56" width="3" height="9.26"/><rect class="r" x="528.75" y="133.83" width="3" height="6.81"/><rect class="r" x="532.59" y="139" width="3" height="10.62"/><rect class="r" x="536.44" y="148.8" width="3" height="4.08"/><rect class="g" x="540.29" y="147.85" width="3" height="5.04"/><rect class="r" x="544.13" y="147.85" width="3" height="5.44"/><rect class="g" x="547.98" y="141.04" width="3" height="12.25"/><rect class="g" x="551.83" y="136.96" width="3" height="4.76"/><rect class="r" x="555.67" y="137.64" width="3" height="5.44"/><rect class="g" x="559.52" y="139.68" width="3" height="3.4"/><rect class="r" x="563.37" y="139.68" width="3" height="4.08"/><rect class="r" x="567.21" y="141.72" width="3" height="4.36"/><rect class="g" x="571.06" y="141.45" width="3" height="4.36"/><rect class="g" x="574.91" y="137.37" width="3" height="6.4"/><rect class="g" x="578.76" y="125.66" width="3" height="13.07"/><rect class="r" x="582.6" y="125.66" width="3" height="1.77"/><rect class="g" x="586.45" y="125.66" width="3" height="1.77"/><rect class="g" x="590.3" y="117.9" width="3" height="9.12"/><rect class="r" x="594.14" y="117.9" width="3" height="10.89"/><rect class="r" x="597.99" y="126.48" width="3" height="5.04"/><rect class="g" x="601.84" y="124.71" width="3" height="6.81"/><rect class="r" x="605.68" y="125.12" width="3" height="6.4"/><rect class="g" x="609.53" y="129.74" width="3" height="1.77"/><rect class="g" x="613.38" y="127.02" width="3" height="3.54"/><rect class="r" x="617.23" y="126.75" width="3" height="2.04"/><rect class="g" x="621.07" y="122.94" width="3" height="5.44"/><rect class="r" x="624.92" y="122.39" width="3" height="1.63"/><rect class="r" x="628.77" y="122.94" width="3" height="3.81"/><rect class="g" x="632.61" y="125.12" width="3" height="1.63"/><rect class="r" x="636.46" y="125.12" width="3" height="3.27"/><rect class="g" x="640.31" y="125.12" width="3" height="3.27"/><rect class="g" x="644.15" y="122.39" width="3" height="3.67"/><rect class="r" x="648" y="122.67" width="3" height="2.72"/><rect class="g" x="651.85" y="123.35" width="3" height="1.77"/><rect class="r" x="655.7" y="123.35" width="3" height="4.76"/><rect class="g" x="659.54" y="126.07" width="3" height="2.04"/><rect class="r" x="663.39" y="126.87" width="3" height="3.67"/><rect class="g" x="667.24" y="123.74" width="3" height="6.81"/><rect class="r" x="671.08" y="124.14" width="3" height="1.63"/><rect class="g" x="674.93" y="122.78" width="3" height="2.99"/><rect class="r" x="678.78" y="121.97" width="3" height="1.77"/><rect class="g" x="682.62" y="115.98" width="3" height="7.76"/><rect class="r" x="686.47" y="116.25" width="3" height="8.85"/><rect class="g" x="690.32" y="115.57" width="3" height="9.53"/><rect class="r" x="694.17" y="114.62" width="3" height="9.53"/><rect class="g" x="698.01" y="121.69" width="3" height="2.45"/><rect class="g" x="701.86" y="116.52" width="3" height="6.53"/><rect class="r" x="705.71" y="116.93" width="3" height="1.77"/><rect class="g" x="709.55" y="112.85" width="3" height="5.85"/><rect class="r" x="713.4" y="112.85" width="3" height="1.77"/><rect class="g" x="717.25" y="109.17" width="3" height="6.4"/><rect class="g" x="721.1" y="102.64" width="3" height="8.17"/><rect class="g" x="724.94" y="98.56" width="3" height="6.12"/><rect class="r" x="728.79" y="98.56" width="3" height="3.81"/><rect class="g" x="732.64" y="98.83" width="3" height="3.13"/><rect class="r" x="736.48" y="98.83" width="3" height="16.74"/><rect class="g" x="740.33" y="113.26" width="3" height="2.31"/><rect class="r" x="744.18" y="113.26" width="3" height="4.36"/><rect class="g" x="748.02" y="110.53" width="3" height="7.08"/><rect class="g" x="751.87" y="110.12" width="3" height="2.04"/><rect class="g" x="755.72" y="102.37" width="3" height="9.12"/><rect class="r" x="759.56" y="101.96" width="3" height="4.49"/><rect class="g" x="763.41" y="101.96" width="3" height="4.76"/><rect class="r" x="767.26" y="101.96" width="3" height="3.13"/><rect class="g" x="771.11" y="100.19" width="3" height="5.17"/><rect class="g" x="774.95" y="95.56" width="3" height="5.72"/><rect class="g" x="778.8" y="93.79" width="3" height="2.72"/><rect class="g" x="782.65" y="90.12" width="3" height="5.44"/><rect class="g" x="786.49" y="67.93" width="3" height="23.82"/><rect class="g" x="790.34" y="60.72" width="3" height="8.98"/><rect class="r" x="794.19" y="61.12" width="3" height="5.44"/><rect class="g" x="798.03" y="62.89" width="3" height="4.36"/><rect class="r" x="801.88" y="62.89" width="3" height="8.71"/><rect class="g" x="805.73" y="62.89" width="3" height="8.71"/><rect class="g" x="809.58" y="59.36" width="3" height="5.17"/><rect class="g" x="813.42" y="59.76" width="3" height="1.77"/><rect class="r" x="817.27" y="60.44" width="3" height="2.99"/><rect class="g" x="821.12" y="60.17" width="3" height="3.27"/><rect class="r" x="824.96" y="60.17" width="3" height="4.08"/><rect class="r" x="828.81" y="63.37" width="3" height="18.65"/><rect class="g" x="832.66" y="74.94" width="3" height="7.49"/><rect class="r" x="836.5" y="75.22" width="3" height="1.36"/><rect class="r" x="840.35" y="76.03" width="3" height="1.63"/><rect class="g" x="844.2" y="69.77" width="3" height="7.89"/><rect class="g" x="848.05" y="68.82" width="3" height="1.77"/><rect class="g" x="851.89" y="63.78" width="3" height="5.99"/><rect class="g" x="855.74" y="57.52" width="3" height="7.62"/><rect class="r" x="859.59" y="57.93" width="3" height="2.72"/><rect class="r" x="863.43" y="59.7" width="3" height="6.4"/><rect class="g" x="867.28" y="57.25" width="3" height="8.85"/><rect class="r" x="871.13" y="57.52" width="3" height="7.62"/><rect class="r" x="874.98" y="63.78" width="3" height="14.56"/><rect class="g" x="878.82" y="75.62" width="3" height="2.72"/><rect class="r" x="882.67" y="76.03" width="3" height="11.43"/><rect class="g" x="886.52" y="81.07" width="3" height="6.4"/><rect class="r" x="890.36" y="82.43" width="3" height="6.12"/><rect class="r" x="894.21" y="87.19" width="3" height="19.06"/><rect class="g" x="898.06" y="98.76" width="3" height="7.76"/><rect class="r" x="901.9" y="99.17" width="3" height="2.72"/><rect class="g" x="905.75" y="94.27" width="3" height="7.62"/><rect class="r" x="909.6" y="94.27" width="3" height="3.13"/><rect class="g" x="913.44" y="94.68" width="3" height="2.04"/><rect class="r" x="917.29" y="94.27" width="3" height="7.62"/><rect class="g" x="921.14" y="94" width="3" height="8.17"/><rect class="r" x="924.99" y="94.27" width="3" height="3.54"/><rect class="g" x="928.83" y="93.32" width="3" height="4.08"/><rect class="g" x="932.68" y="92.64" width="3" height="1.63"/><rect class="r" x="936.53" y="92.64" width="3" height="6.12"/><rect class="g" x="940.37" y="96.04" width="3" height="1.77"/><rect class="r" x="944.22" y="96.45" width="3" height="2.31"/><rect class="g" x="948.07" y="96.04" width="3" height="2.72"/><rect class="g" x="951.91" y="84.2" width="3" height="12.52"/><rect class="r" x="955.76" y="84.47" width="3" height="7.08"/><rect class="r" x="959.61" y="90.19" width="3" height="3.13"/><rect class="r" x="963.46" y="90.6" width="3" height="1.36"/><rect class="r" x="967.3" y="90.6" width="3" height="1.77"/><rect class="r" x="971.15" y="91.28" width="3" height="14.97"/><rect class="r" x="975" y="104.8" width="3" height="22.19"/><rect class="r" x="978.84" y="125.22" width="3" height="3.81"/><rect class="g" x="982.69" y="122.22" width="3" height="6.81"/><rect class="g" x="986.54" y="121.95" width="3" height="1.63"/><rect class="r" x="990.38" y="121.54" width="3" height="6.81"/><rect class="g" x="994.23" y="126.58" width="3" height="1.77"/><rect class="r" x="998.08" y="126.03" width="3" height="8.44"/><rect class="r" x="1001.93" y="133.11" width="3" height="1.63"/><rect class="r" x="1005.77" y="133.79" width="3" height="16.33"/><rect class="r" x="1009.62" y="149.17" width="3" height="1.36"/><rect class="r" x="1013.47" y="149.44" width="3" height="1.36"/><rect class="r" x="1017.31" y="149.44" width="3" height="1.63"/><rect class="r" x="1021.16" y="150.53" width="3" height="3.27"/><rect class="g" x="1025.01" y="148.36" width="3" height="5.17"/><rect class="g" x="1028.86" y="143.73" width="3" height="5.72"/><rect class="r" x="1032.7" y="143.32" width="3" height="2.72"/><rect class="r" x="1036.55" y="144.27" width="3" height="13.61"/><rect class="g" x="1040.4" y="154.89" width="3" height="2.99"/><rect class="g" x="1044.24" y="152.17" width="3" height="3.81"/><rect class="r" x="1048.09" y="151.89" width="3" height="6.81"/><rect class="g" x="1051.94" y="151.89" width="3" height="6.81"/><rect class="g" x="1055.78" y="151.08" width="3" height="2.18"/><rect class="g" x="1059.63" y="148.36" width="3" height="4.49"/><rect class="r" x="1063.48" y="148.08" width="3" height="3.4"/><rect class="g" x="1067.33" y="146.72" width="3" height="4.36"/><rect class="g" x="1071.17" y="135.83" width="3" height="12.25"/><rect class="r" x="1075.02" y="136.51" width="3" height="4.08"/><rect class="r" x="1078.87" y="139.64" width="3" height="4.63"/><rect class="g" x="1082.71" y="138.83" width="3" height="5.44"/><rect class="g" x="1086.56" y="135.15" width="3" height="4.76"/><rect class="r" x="1090.41" y="135.15" width="3" height="2.72"/><rect class="r" x="1094.25" y="136.92" width="3" height="1.63"/><rect class="r" x="1098.1" y="136.51" width="3" height="5.04"/><rect class="r" x="1101.95" y="140.6" width="3" height="1.36"/><rect class="g" x="1105.8" y="136.92" width="3" height="4.63"/><rect class="g" x="1109.64" y="133.79" width="3" height="3.67"/><rect class="g" x="1113.49" y="131.48" width="3" height="3.27"/><rect class="r" x="1117.34" y="130.66" width="3" height="6.81"/><rect class="g" x="1121.18" y="131.48" width="3" height="5.99"/><rect class="g" x="1125.03" y="124.26" width="3" height="8.17"/><rect class="g" x="1128.88" y="124.17" width="3" height="1.63"/><rect class="g" x="1132.72" y="120.09" width="3" height="5.72"/><rect class="r" x="1136.57" y="119.68" width="3" height="4.08"/><rect class="r" x="1140.42" y="122.81" width="3" height="7.76"/><rect class="r" x="1144.27" y="129.89" width="3" height="1.63"/><rect class="g" x="1148.11" y="128.26" width="3" height="3.67"/><rect class="r" x="1151.96" y="129.89" width="3" height="2.04"/><rect class="g" x="1155.81" y="126.49" width="3" height="5.44"/><rect class="r" x="1159.65" y="126.49" width="3" height="6.12"/><rect class="g" x="1163.5" y="128.26" width="3" height="4.36"/><rect class="r" x="1167.35" y="128.26" width="3" height="3.27"/><rect class="r" x="1171.19" y="130.57" width="3" height="1.77"/><rect class="r" x="1175.04" y="131.25" width="3" height="1.63"/><rect class="g" x="1178.89" y="130.16" width="3" height="2.72"/><rect class="g" x="1182.74" y="120.09" width="3" height="11.84"/><rect class="g" x="1186.58" y="100.22" width="3" height="21.23"/><rect class="g" x="1190.43" y="99.67" width="3" height="1.36"/><rect class="g" x="1194.28" y="98.86" width="3" height="2.18"/><rect class="g" x="1198.12" y="94.77" width="3" height="4.9"/><rect class="g" x="1201.97" y="94.23" width="3" height="1.36"/><rect class="g" x="1205.82" y="87.69" width="3" height="7.89"/><rect class="r" x="1209.66" y="87.97" width="3" height="6.81"/><rect class="g" x="1213.51" y="91.78" width="3" height="2.99"/><rect class="g" x="1217.36" y="88.78" width="3" height="4.36"/><rect class="g" x="1221.21" y="84.97" width="3" height="5.17"/><rect class="r" x="1225.05" y="84.7" width="3" height="5.99"/><rect class="r" x="1228.9" y="90.14" width="3" height="22.73"/><rect class="g" x="1232.75" y="110.56" width="3" height="2.72"/><rect class="g" x="1236.59" y="105.12" width="3" height="6.81"/><rect class="r" x="1240.44" y="105.12" width="3" height="5.44"/><rect class="g" x="1244.29" y="104.3" width="3" height="6.26"/><rect class="r" x="1248.13" y="104.71" width="3" height="1.77"/><rect class="g" x="1251.98" y="102.67" width="3" height="3.81"/><rect class="g" x="1255.83" y="96.95" width="3" height="7.08"/><rect class="r" x="1259.68" y="97.22" width="3" height="10.89"/><rect class="g" x="1263.52" y="102.39" width="3" height="5.99"/><rect class="r" x="1267.37" y="102.39" width="3" height="6.81"/><rect class="g" x="1271.22" y="107.43" width="3" height="1.77"/><rect class="g" x="1275.06" y="102.94" width="3" height="5.85"/><rect class="g" x="1278.91" y="101.99" width="3" height="2.04"/><rect class="g" x="1282.76" y="96.54" width="3" height="7.21"/><rect class="r" x="1286.6" y="96.54" width="3" height="7.21"/><rect class="r" x="1290.45" y="102.27" width="3" height="1.2"/><rect class="g" x="1294.3" y="100.22" width="3" height="3.13"/><rect class="g" x="1298.14" y="98.86" width="3" height="1.77"/><rect class="g" x="1301.99" y="96.54" width="3" height="4.08"/></g>
<line class="ch" x1="192.2" y1="10.4" x2="192.2" y2="497"/>
<line class="ch" x1="6.4" y1="63" x2="1306.5" y2="63"/>
<line x1="194" y1="57.3" x2="194" y2="497" stroke="#86c2c3" stroke-width="1.7"/>
<text class="ax" x="1319" y="16.7">9,200</text>
<text class="ax" x="1319" y="77.63">9,000</text>
<text class="ax" x="1319" y="138.56">8,800</text>
<text class="ax" x="1319" y="199.49">8,600</text>
<text class="ax" x="1319" y="260.42">8,400</text>
<text class="ax" x="1319" y="321.35">8,200</text>
<text class="ax" x="1319" y="382.28">8,000</text>
<text class="ax" x="1319" y="443.21">7,800</text>
<text class="ax" x="1319" y="504.14">7,600</text>
<text class="ax" text-anchor="middle" x="128.1" y="529.6">Apr 29</text>
<text class="ax" text-anchor="middle" x="312.9" y="529.6">Apr 30</text>
<text class="ax" text-anchor="middle" x="497.7" y="529.6">May 01</text>
<text class="ax" text-anchor="middle" x="682.5" y="529.6">May 02</text>
<text class="ax" text-anchor="middle" x="867.3" y="529.6">May 03</text>
<text class="ax" text-anchor="middle" x="1052.1" y="529.6">May 04</text>
<text class="ax" text-anchor="middle" x="1236.9" y="529.6">May 05</text>
<text transform="translate(1383.6,253.9) rotate(90)" text-anchor="middle" fill="#111" style="font-size:17.4px">Price USD</text>
<g><clipPath id="c1"><path clip-rule="evenodd" d="M0 0H1412V551H0Z M205.2 35.3 H353 Q356.5 35.3 356.5 38.8 V73.1 Q356.5 76.6 353 76.6 H205.2 Q201.7 76.6 201.7 73.1 V63.3 L194.2 56.2 L201.7 49.1 V38.8 Q201.7 35.3 205.2 35.3 Z"/></clipPath><g clip-path="url(#c1)"><path d="M205.2 35.3 H353 Q356.5 35.3 356.5 38.8 V73.1 Q356.5 76.6 353 76.6 H205.2 Q201.7 76.6 201.7 73.1 V63.3 L194.2 56.2 L201.7 49.1 V38.8 Q201.7 35.3 205.2 35.3 Z" transform="translate(0.5,1.6)" fill="#000" fill-opacity="0.42" filter="url(#sh)"/></g><path d="M205.2 35.3 H353 Q356.5 35.3 356.5 38.8 V73.1 Q356.5 76.6 353 76.6 H205.2 Q201.7 76.6 201.7 73.1 V63.3 L194.2 56.2 L201.7 49.1 V38.8 Q201.7 35.3 205.2 35.3 Z" fill="rgba(72,160,161,0.8)" stroke="#fff" stroke-width="1.4" stroke-linejoin="round"/><text x="217" y="64" fill="#fff">$1,451,558,991</text></g>
<g><clipPath id="c2"><path clip-rule="evenodd" d="M0 0H1412V551H0Z M202.6 208.6 H306.1 Q309.6 208.6 309.6 212.1 V246.8 Q309.6 250.3 306.1 250.3 H202.6 Q199.1 250.3 199.1 246.8 V236.8 L191.2 229.7 L199.1 222.6 V212.1 Q199.1 208.6 202.6 208.6 Z"/></clipPath><g clip-path="url(#c2)"><path d="M202.6 208.6 H306.1 Q309.6 208.6 309.6 212.1 V246.8 Q309.6 250.3 306.1 250.3 H202.6 Q199.1 250.3 199.1 246.8 V236.8 L191.2 229.7 L199.1 222.6 V212.1 Q199.1 208.6 202.6 208.6 Z" transform="translate(0.5,1.6)" fill="#000" fill-opacity="0.42" filter="url(#sh)"/></g><path d="M202.6 208.6 H306.1 Q309.6 208.6 309.6 212.1 V246.8 Q309.6 250.3 306.1 250.3 H202.6 Q199.1 250.3 199.1 246.8 V236.8 L191.2 229.7 L199.1 222.6 V212.1 Q199.1 208.6 202.6 208.6 Z" fill="rgba(100,215,117,0.94)" stroke="#fff" stroke-width="1.4" stroke-linejoin="round"/><text x="215" y="237.4" fill="#000">$8,479.89</text></g>
<path d="M157.2 503 H185.8 L192.6 496 L199 503 H228.5 V543.8 H157.2 Z" fill="#000"/>
<text x="193" y="529.6" text-anchor="middle" fill="#fff" style="stroke:#fff;stroke-width:.55px;font-size:17.7px">20:00</text>
</svg></body></html>
